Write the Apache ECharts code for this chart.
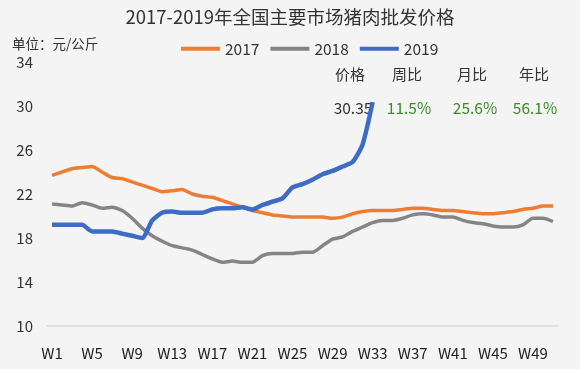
<!DOCTYPE html>
<html>
<head>
<meta charset="utf-8">
<script src="https://cdn.jsdelivr.net/npm/echarts@6/dist/echarts.min.js"></script>
<style>
html,body{margin:0;padding:0;background:#f4f4f4;}
#c{width:580px;height:369px;}
</style>
</head>
<body>
<div id="c"></div>
<script>
var weeks = [];
for (var i = 1; i <= 51; i++) weeks.push('W' + i);

var s2017 = [23.7,24.0,24.3,24.4,24.5,24.0,23.5,23.4,23.1,22.8,22.5,22.2,22.3,22.4,22.0,21.8,21.7,21.4,21.1,20.8,
  20.5,20.3,20.1,20.0,19.9,19.9,19.9,19.9,19.8,19.9,20.2,20.4,20.5,20.5,20.5,20.6,20.7,20.7,20.6,20.5,
  20.5,20.4,20.3,20.2,20.2,20.3,20.4,20.6,20.7,20.9,20.9];
var s2018 = [21.1,21.0,20.9,21.2,21.0,20.7,20.8,20.5,19.8,18.9,18.2,17.7,17.3,17.1,16.9,16.5,16.1,15.8,15.9,15.8,
  15.8,16.4,16.6,16.6,16.6,16.7,16.7,17.3,17.9,18.1,18.6,19.0,19.4,19.6,19.6,19.8,20.1,20.2,20.1,19.9,
  19.9,19.6,19.4,19.3,19.1,19.0,19.0,19.2,19.8,19.8,19.5];
var s2019 = [19.2,19.2,19.2,19.2,18.6,18.6,18.6,18.4,18.2,18.0,19.6,20.3,20.4,20.3,20.3,20.3,20.6,20.7,20.7,20.8,
  20.6,21.0,21.3,21.6,22.6,22.9,23.3,23.8,24.1,24.5,24.9,26.5,30.35];

var seriesNames = ['2017','2018','2019'];
var yTicks = [10,14,18,22,26,30,34];
var statHeaders = ['价格','周比','月比','年比'];
var statValues = ['30.35','11.5%','25.6%','56.1%'];

var chart = echarts.init(document.getElementById('c'));
var font = '"Noto Sans CJK SC","Noto Sans",sans-serif';
var headerX = [350, 407, 472, 534];
var valueX = [353, 409, 475, 535];
var graphics = [];
statHeaders.forEach(function(t, i){
  graphics.push({type:'text', x: headerX[i], y: 67, style:{text:t, fill:'#333', font:'15px ' + font, textAlign:'center'}});
});
statValues.forEach(function(t, i){
  graphics.push({type:'text', x: valueX[i], y: 100, style:{text:t, fill: i === 0 ? '#333' : '#3b8c2a', font:'15.5px ' + font, textAlign:'center'}});
});
graphics.push({type:'text', x: 12, y: 37, style:{text:'单位：元/公斤', fill:'#333', font:'13.5px ' + font}});

chart.setOption({
  backgroundColor: '#f4f4f4',
  animation: false,
  title: {
    text: '2017-2019年全国主要市场猪肉批发价格',
    left: 'center', top: 3,
    textStyle: {fontSize: 18.5, fontWeight: 'normal', color: '#333', fontFamily: font}
  },
  legend: {
    data: seriesNames,
    left: 176, top: 36,
    icon: 'rect', itemWidth: 39, itemHeight: 4, itemGap: 11,
    textStyle: {fontSize: 15.5, color: '#333', fontFamily: font}
  },
  grid: {left: 47, right: 22, top: 62, bottom: 43},
  xAxis: {
    type: 'category', data: weeks, boundaryGap: true,
    axisLine: {lineStyle: {color: '#d9d9d9', width: 1.5}},
    axisTick: {show: false},
    axisLabel: {interval: 3, color: '#222', fontSize: 15, margin: 20, fontFamily: font}
  },
  yAxis: {
    type: 'value', min: yTicks[0], max: yTicks[yTicks.length-1], interval: 4,
    axisLine: {show: false}, axisTick: {show: false},
    splitLine: {show: false},
    axisLabel: {color: '#333', fontSize: 15, margin: 14, fontFamily: font}
  },
  graphic: graphics,
  series: [
    {name: seriesNames[0], type: 'line', data: s2017, showSymbol: false, smooth: 0.2,
      lineStyle: {color: '#ED7D31', width: 3.5}, itemStyle: {color: '#ED7D31'}},
    {name: seriesNames[1], type: 'line', data: s2018, showSymbol: false, smooth: 0.2,
      lineStyle: {color: '#858585', width: 3.5}, itemStyle: {color: '#858585'}},
    {name: seriesNames[2], type: 'line', data: s2019, showSymbol: false, smooth: 0.2,
      lineStyle: {color: '#3d6cc6', width: 4.5}, itemStyle: {color: '#3d6cc6'}}
  ]
});
</script>
</body>
</html>
